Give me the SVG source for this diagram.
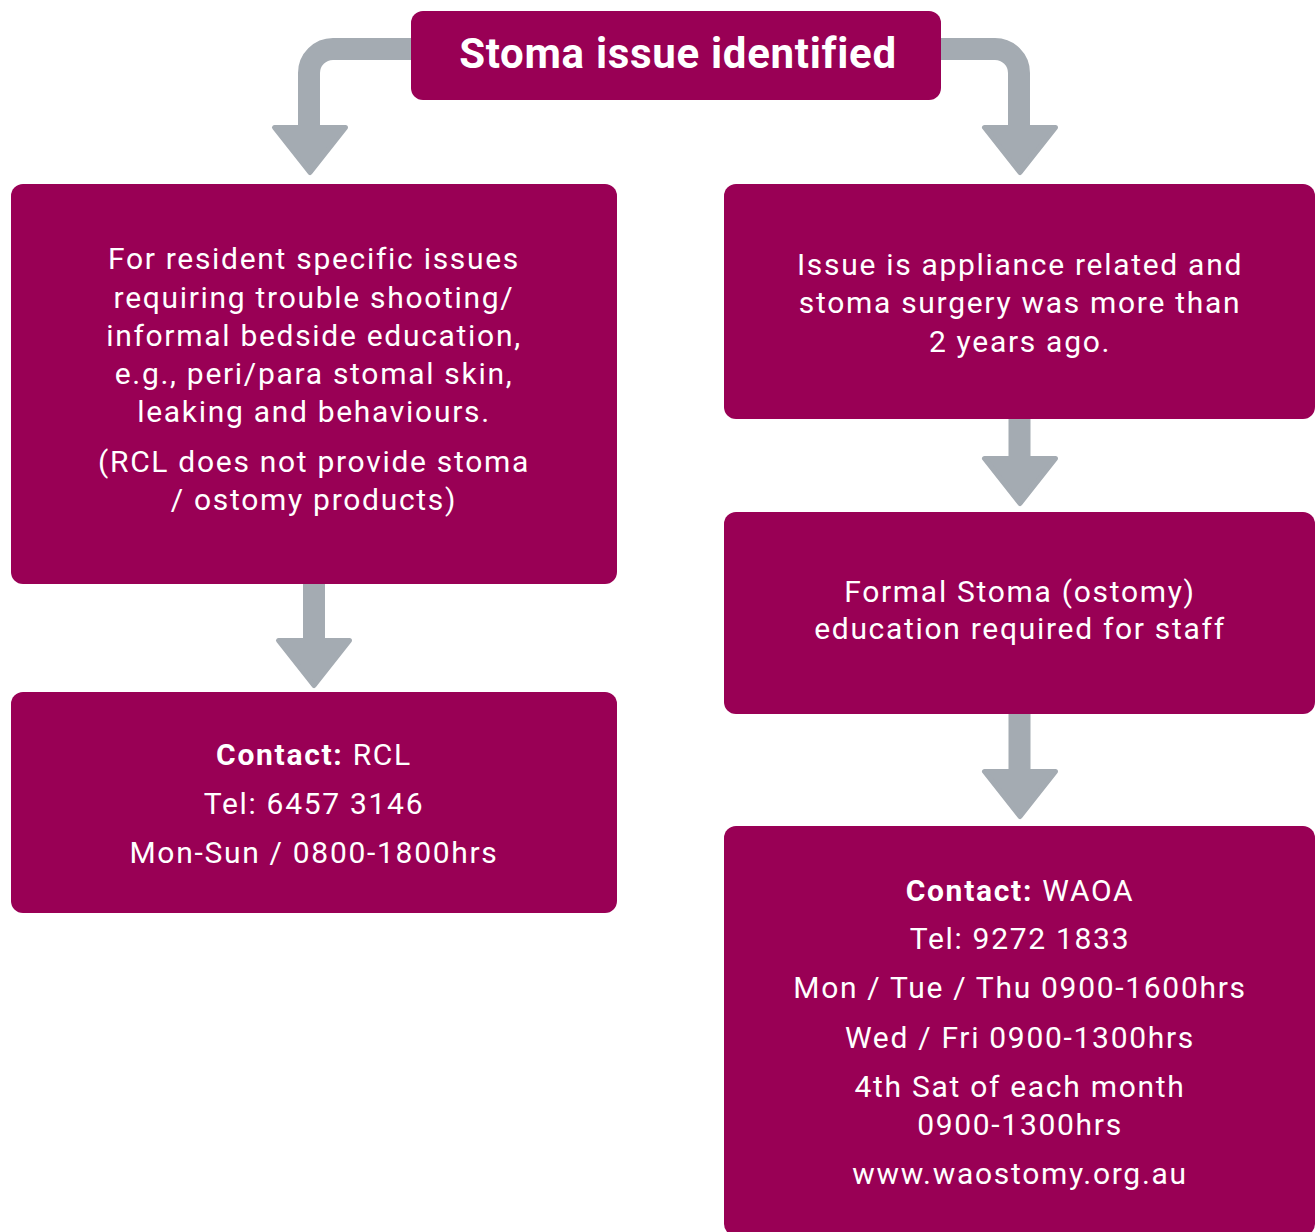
<svg xmlns="http://www.w3.org/2000/svg" width="1316" height="1232" viewBox="0 0 1316 1232">
<defs>
<style>
.box{fill:#990055;}
.bar{fill:none;stroke:#A4ABB2;stroke-width:22;}
.head{fill:#A4ABB2;stroke:#A4ABB2;stroke-width:5;stroke-linejoin:round;}
.t{font-family:Roboto,"Liberation Sans",sans-serif;font-size:30px;letter-spacing:1.7px;fill:#ffffff;text-anchor:middle;}
.b{font-weight:bold;}
.title{font-family:Roboto,"Liberation Sans",sans-serif;font-size:42px;letter-spacing:0.7px;font-weight:bold;fill:#ffffff;text-anchor:middle;}
</style>
</defs>
<rect width="1316" height="1232" fill="#ffffff"/>
<g id="connectors">
<path class="bar" d="M420,49 H333 A24,24 0 0 0 309,73 V130"/>
<path class="head" d="M274.5,127.5 H345.5 L310,172.5 Z"/>
<path class="bar" d="M930,49 H995 A24,24 0 0 1 1019,73 V130"/>
<path class="head" d="M984.5,127.5 H1055.5 L1020,172.5 Z"/>
<path class="bar" d="M314,580 V642"/>
<path class="head" d="M278.5,640.5 H349.5 L314,685.5 Z"/>
<path class="bar" d="M1019.5,415 V460"/>
<path class="head" d="M984.5,458.5 H1055.5 L1020,503.5 Z"/>
<path class="bar" d="M1019.5,710 V772"/>
<path class="head" d="M984.5,771.5 H1055.5 L1020,816.5 Z"/>
</g>
<g id="start">
<rect class="box" x="411" y="11" width="530" height="89" rx="12"/>
<text class="title" x="678" y="68">Stoma issue identified</text>
</g>
<g id="resident">
<rect class="box" x="11" y="184" width="606" height="400" rx="12"/>
<text class="t" x="314" y="269">For resident specific issues</text>
<text class="t" x="314" y="308">requiring trouble shooting/</text>
<text class="t" x="314" y="346">informal bedside education,</text>
<text class="t" x="314" y="384">e.g., peri/para stomal skin,</text>
<text class="t" x="314" y="422">leaking and behaviours.</text>
<text class="t" x="314" y="472">(RCL does not provide stoma</text>
<text class="t" x="314" y="510">/ ostomy products)</text>
</g>
<g id="rcl">
<rect class="box" x="11" y="692" width="606" height="221" rx="12"/>
<text class="t" x="314" y="765"><tspan class="b">Contact:</tspan> RCL</text>
<text class="t" x="314" y="814">Tel: 6457 3146</text>
<text class="t" x="314" y="863">Mon-Sun / 0800-1800hrs</text>
</g>
<g id="appliance">
<rect class="box" x="724" y="184" width="591" height="235" rx="12"/>
<text class="t" x="1020" y="275">Issue is appliance related and</text>
<text class="t" x="1020" y="313">stoma surgery was more than</text>
<text class="t" x="1020" y="352">2 years ago.</text>
</g>
<g id="education">
<rect class="box" x="724" y="512" width="591" height="202" rx="12"/>
<text class="t" x="1020" y="602">Formal Stoma (ostomy)</text>
<text class="t" x="1020" y="639">education required for staff</text>
</g>
<g id="waoa">
<rect class="box" x="724" y="826" width="591" height="410" rx="12"/>
<text class="t" x="1020" y="901"><tspan class="b">Contact:</tspan> WAOA</text>
<text class="t" x="1020" y="949">Tel: 9272 1833</text>
<text class="t" x="1020" y="998">Mon / Tue / Thu 0900-1600hrs</text>
<text class="t" x="1020" y="1048">Wed / Fri 0900-1300hrs</text>
<text class="t" x="1020" y="1097">4th Sat of each month</text>
<text class="t" x="1020" y="1135">0900-1300hrs</text>
<text class="t" x="1020" y="1184">www.waostomy.org.au</text>
</g>
</svg>
